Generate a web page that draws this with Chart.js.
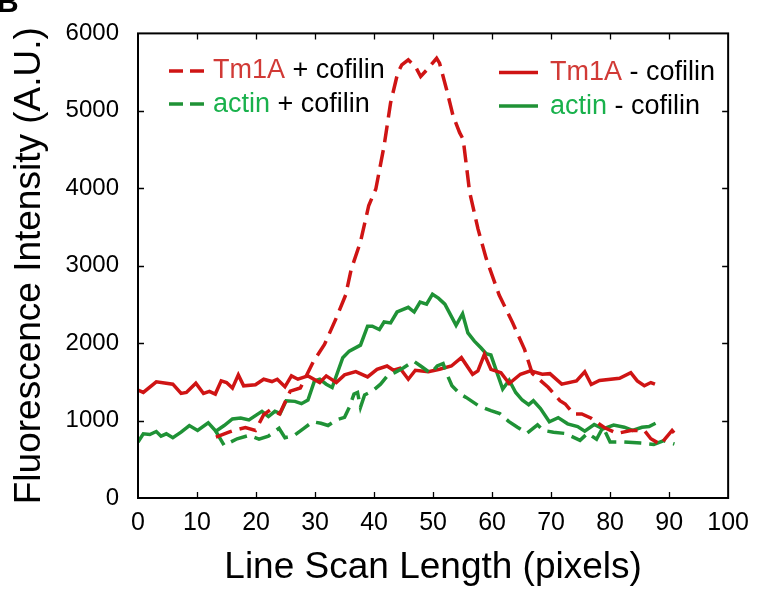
<!DOCTYPE html>
<html>
<head>
<meta charset="utf-8">
<script src="https://cdn.jsdelivr.net/npm/chart.js@4.4.1/dist/chart.umd.min.js"></script>
<style>
html,body{margin:0;padding:0;background:#fff;}
#wrap{width:759px;height:591px;position:relative;}
</style>
</head>
<body>
<div id="wrap"><canvas id="c" width="759" height="591"></canvas></div>
<script>
// ---- tick values ----
const xTickValues = [0,10,20,30,40,50,60,70,80,90,100];
const yTickValues = [0,1000,2000,3000,4000,5000,6000];

// ---- series: Tm1A + cofilin (red dashed) ----
const tmPlusX = [13.2,15.4,16.2,18.2,19.9,21.3,22.4,24,25.8,27.5,29.7,31.6,33.6,35.2,36.1,37.7,39.1,40.3,41.7,42.8,44,44.7,45.8,47,47.9,49.2,50.6,51.1,52.3,53.4,54.5,55.1,56.2,57.6,59,61.2,63.5,65.5,66.8,69.5,71.5,72.4,73.8,75.2,76.8,79,81.2,83.5,85.8,86.9,88.6,89.1,90.5,91.2];
const tmPlusY = [786,850,872,910,872,1075,1137,1086,1380,1420,1760,1983,2325,2624,2945,3308,3778,3991,4547,5103,5487,5594,5658,5573,5444,5551,5679,5615,5273,4932,4718,4632,3949,3478,3094,2620,2260,1920,1610,1430,1256,1214,1086,1086,1030,910,835,872,872,765,690,744,872,808];

// ---- series: actin + cofilin (green dashed) ----
const acPlusX = [13.1,14.6,15.7,16.8,18.8,20.5,22.1,23.9,24.9,26.4,28.1,29.6,31,32.2,33.6,35,35.8,36.6,37.2,37.7,38.4,39.8,41.1,42.3,43.5,45,46.7,47.9,49.6,50.7,51.7,52.4,53.2,54.6,55.6,57.7,59.8,61.3,62.8,64.3,65.9,67.7,68.7,70.4,72.4,74.9,76.2,77.7,78.8,80,82.4,85.2,87.4,89.1,90.9];
const acPlusY = [872,680,722,765,808,760,800,900,778,805,900,985,965,936,1009,1042,1171,1342,1363,1171,1330,1385,1470,1580,1619,1683,1769,1705,1610,1705,1735,1590,1450,1342,1299,1192,1128,1090,990,914,837,945,872,850,833,744,837,758,914,722,722,709,692,740,697];

// ---- series: Tm1A - cofilin (red solid) ----
const tmMinusX = [0,0.9,3.1,5.9,7.3,8.2,9.8,11.1,12.1,13.1,14.1,15,16,17,17.9,19.9,21.3,22.7,23.6,24.9,26,27.1,28.8,30.8,31.9,33.6,35,36.9,38.9,40.5,42.2,43.3,44.4,45.8,47,49.2,51.1,53.1,54.8,56.7,57.6,58.7,59.8,61.5,62.9,64.8,66.5,68.5,69.8,71.8,74.3,75.7,76.8,78.2,81.6,83.5,84.6,85.8,86.9,87.6];
const tmMinusY = [1393,1363,1500,1470,1350,1363,1483,1350,1376,1342,1513,1491,1419,1590,1449,1462,1534,1504,1534,1436,1577,1534,1577,1491,1577,1491,1590,1632,1564,1662,1705,1650,1675,1534,1650,1632,1662,1705,1812,1598,1641,1855,1662,1619,1478,1598,1641,1598,1606,1470,1513,1630,1466,1517,1547,1619,1513,1449,1491,1470];

// ---- series: actin - cofilin (green solid) ----
const acMinusX = [0,0.9,2,3.1,3.9,4.8,5.9,7.3,8.7,10.1,11.9,13.2,14.6,16,17.4,18.8,21,22.1,23.2,24.1,25.1,26.6,27.7,28.8,29.9,30.8,31.9,32.9,34.7,35.8,37.7,38.9,39.7,40.9,41.7,42.8,43.9,45.8,46.8,47.8,48.9,49.9,50.9,52,53.9,55,55.9,57,58.1,59,59.8,61.8,62.9,64,65.1,66.2,67,68.2,69.7,71.2,72.8,74.5,75.7,77.3,78.8,80.6,82.4,83.8,85.4,86.6,87.7];
const acMinusY = [722,829,820,859,799,829,778,850,936,872,970,863,936,1021,1034,1009,1119,1051,1119,1094,1256,1248,1218,1265,1513,1534,1470,1427,1812,1897,1974,2218,2218,2175,2273,2261,2402,2462,2402,2530,2504,2632,2581,2504,2231,2380,2132,2026,1940,1863,1846,1406,1521,1363,1265,1205,1256,1155,985,1038,958,923,863,949,893,942,914,872,914,923,965];

// ---- legend text ----
const legendProteins = ['Tm1A','actin','Tm1A','actin'];
const legendSuffixes = [' + cofilin',' + cofilin',' - cofilin',' - cofilin'];

const RED = '#cf1414';
const GREEN = '#1f9236';
const RED_TXT = '#d13a36';
const GREEN_TXT = '#19b14c';
const FONT = "'Liberation Sans', Arial, Helvetica, sans-serif";
const DASH = [17,8];

function pts(xs, ys){ return xs.map((x,i)=>({x:x, y:ys[i]})); }

const framePlugin = {
  id:'framePlugin',
  afterDatasetsDraw(chart){
    const {ctx, chartArea:a, scales} = chart;
    const sx = scales.x, sy = scales.y;
    ctx.save();
    ctx.strokeStyle = '#000';
    ctx.lineWidth = 2;
    ctx.strokeRect(a.left, a.top, a.right-a.left, a.bottom-a.top);
    ctx.lineWidth = 1.3;
    ctx.beginPath();
    xTickValues.forEach(v=>{
      if (v===sx.min || v===sx.max) return;
      const px = Math.round(sx.getPixelForValue(v))+0.5;
      ctx.moveTo(px, a.bottom); ctx.lineTo(px, a.bottom-6);
      ctx.moveTo(px, a.top); ctx.lineTo(px, a.top+6);
    });
    yTickValues.forEach(v=>{
      if (v===sy.min || v===sy.max) return;
      const py = Math.round(sy.getPixelForValue(v))+0.5;
      ctx.moveTo(a.left, py); ctx.lineTo(a.left+6, py);
      ctx.moveTo(a.right, py); ctx.lineTo(a.right-6, py);
    });
    ctx.stroke();

    // legend
    const items = [
      {lx0:169, lx1:205, ly:71, tx:213, ty:78, color:RED, tcolor:RED_TXT, dash:[14,7]},
      {lx0:169, lx1:205, ly:104, tx:213, ty:112, color:GREEN, tcolor:GREEN_TXT, dash:[14,7]},
      {lx0:499, lx1:538, ly:72.5, tx:550, ty:80, color:RED, tcolor:RED_TXT, dash:[]},
      {lx0:499, lx1:538, ly:106, tx:550, ty:114, color:GREEN, tcolor:GREEN_TXT, dash:[]}
    ];
    ctx.font = "27px " + FONT;
    ctx.textBaseline = 'alphabetic';
    ctx.textAlign = 'left';
    items.forEach((it,i)=>{
      ctx.beginPath();
      ctx.setLineDash(it.dash);
      ctx.lineWidth = 3.5;
      ctx.strokeStyle = it.color;
      ctx.moveTo(it.lx0, it.ly); ctx.lineTo(it.lx1, it.ly);
      ctx.stroke();
      ctx.setLineDash([]);
      ctx.fillStyle = it.tcolor;
      ctx.fillText(legendProteins[i], it.tx, it.ty);
      const w = ctx.measureText(legendProteins[i]).width;
      ctx.fillStyle = '#000';
      ctx.fillText(legendSuffixes[i], it.tx + w, it.ty);
    });

    // panel letter
    ctx.font = "bold 30px " + FONT;
    ctx.fillStyle = '#000';
    ctx.fillText('B', -3, 12);
    ctx.restore();
  }
};

const common = {pointRadius:0, pointHoverRadius:0, borderWidth:3.5, tension:0, fill:false};

new Chart(document.getElementById('c'), {
  type:'line',
  data:{
    datasets:[
      Object.assign({label:'Tm1A + cofilin', data:pts(tmPlusX,tmPlusY), borderColor:RED, borderDash:DASH}, common),
      Object.assign({label:'actin + cofilin', data:pts(acPlusX,acPlusY), borderColor:GREEN, borderDash:DASH}, common),
      Object.assign({label:'Tm1A - cofilin', data:pts(tmMinusX,tmMinusY), borderColor:RED}, common),
      Object.assign({label:'actin - cofilin', data:pts(acMinusX,acMinusY), borderColor:GREEN}, common)
    ]
  },
  options:{
    responsive:false,
    animation:false,
    devicePixelRatio:1,
    layout:{padding:{left:0, right:24, top:30, bottom:0}},
    plugins:{legend:{display:false}, tooltip:{enabled:false}},
    scales:{
      x:{
        type:'linear', min:0, max:100,
        afterBuildTicks(s){ s.ticks = xTickValues.map(v=>({value:v})); },
        afterFit(s){ s.height = 93; },
        grid:{display:false, drawTicks:false},
        border:{display:false},
        ticks:{color:'#000', padding:10, maxRotation:0, autoSkip:false, font:{family:FONT, size:25}, callback:(v)=>String(v)},
        title:{display:true, text:'Line Scan Length (pixels)', color:'#000', font:{family:FONT, size:37}, padding:{top:0, bottom:1}}
      },
      y:{
        type:'linear', min:0, max:6000,
        afterBuildTicks(s){ s.ticks = yTickValues.map(v=>({value:v})); },
        afterFit(s){ s.width = 138; },
        grid:{display:false, drawTicks:false},
        border:{display:false},
        ticks:{color:'#000', padding:19, autoSkip:false, font:{family:FONT, size:24}, callback:(v)=>String(v)},
        title:{display:true, text:'Fluorescence Intensity (A.U.)', color:'#000', font:{family:FONT, size:37}, padding:{top:8, bottom:0}}
      }
    }
  },
  plugins:[framePlugin]
});
</script>
</body>
</html>
